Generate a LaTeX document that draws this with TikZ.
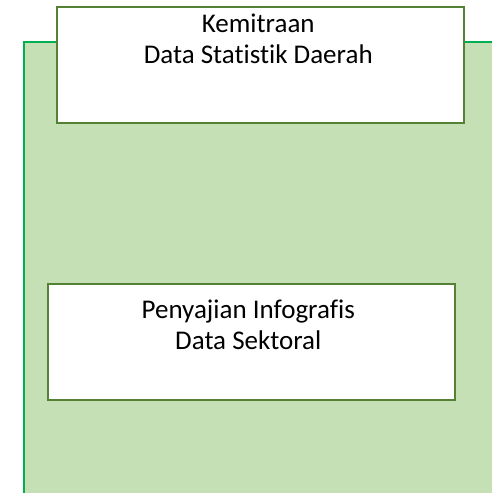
\documentclass[tikz,border=0pt]{standalone}
\usepackage{fontspec}
\setmainfont[Ligatures=NoCommon]{Carlito}
\definecolor{panelfill}{HTML}{C5E0B4}
\definecolor{panelline}{HTML}{00B050}
\definecolor{boxline}{HTML}{548235}
\begin{document}
\begin{tikzpicture}[x=1pt,y=-1pt,
  boxnode/.style={draw=boxline,line width=1.5pt,fill=white,rectangle,inner sep=0pt},
  txt/.style={font=\fontsize{27}{32}\selectfont,anchor=base,inner sep=0pt,text=black}]
\useasboundingbox (0,0) rectangle (492,493);
\begin{scope}
\clip (0,0) rectangle (492,493);
\path[fill=panelfill,draw=panelline,line width=2.2pt] (24,42) rectangle (520,520);
\end{scope}
\node[boxnode,minimum width=407pt,minimum height=116pt,anchor=north west] (top) at (56,6) {};
\node[txt] (t1) at ([yshift=-26pt,xshift=-2pt]top.north) {Kemitraan};
\node[txt] (t2) at ([yshift=-57pt,xshift=-2pt]top.north) {Data Statistik Daerah};
\node[boxnode,minimum width=407pt,minimum height=116pt,anchor=north west] (bot) at (47,283) {};
\node[txt] (b1) at ([yshift=-35pt,xshift=-3pt]bot.north) {Penyajian Infografis};
\node[txt] (b2) at ([yshift=-66pt,xshift=-3pt]bot.north) {Data Sektoral};
\end{tikzpicture}
\end{document}
